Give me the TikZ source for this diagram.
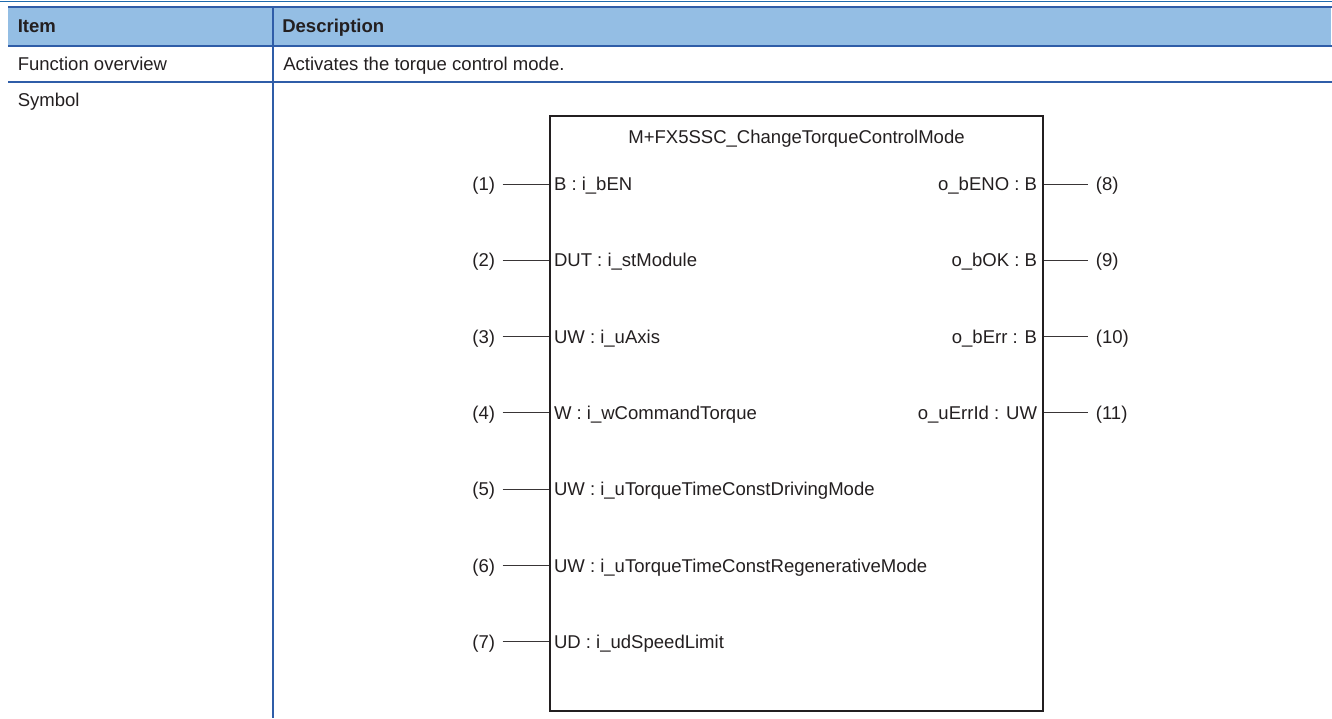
\documentclass[tikz,border=0pt]{standalone}
\usepackage{fontspec}
\setmainfont{Liberation Sans}
\usetikzlibrary{calc}
\definecolor{hdrfill}{HTML}{94BEE4}
\definecolor{tblline}{HTML}{2F5DA8}
\definecolor{topline}{HTML}{1F6BAE}
\definecolor{ink}{HTML}{231F20}

\begin{document}
\begin{tikzpicture}[
			x=0.75pt, y=-0.75pt,
			% Define styles for table and block
			every node/.style={inner sep=0pt, text=ink, font=\fontsize{13.9}{16}\selectfont},
			cell/.style={anchor=west, text height=10pt, text depth=0pt},
			headcell/.style={cell, font=\fontsize{13.9}{16}\selectfont\bfseries},
			tblrule/.style={draw=tblline, line width=1.5pt},
			fbblock/.style={draw=ink, line width=1.9pt, minimum width=369.75pt, minimum height=446.25pt},
			pinlabel/.style={text height=10pt, text depth=0pt},
			pinnum/.style={text height=10pt, text depth=0pt, inner xsep=5.5pt},
			pinwire/.style={draw=ink!90, line width=0.75pt}
		]
		\useasboundingbox (0,0) rectangle (1332,718);

		% Table frame
		\draw[topline, line width=0.75pt] (0,1) -- (1332,1);
		\fill[hdrfill] (8,7) rectangle (1331,46);
		\draw[tblrule] (8,7) -- (1332,7);
		\draw[tblrule] (8,46) -- (1332,46);
		\draw[tblrule] (8,82) -- (1332,82);
		\draw[tblrule] (273,7) -- (273,718);

		% Table texts
		\node[headcell] (hitem) at (17.5,25.5) {Item};
		\node[headcell] (hdesc) at (282,25.5) {Description};
		\node[cell] (rfunc) at (17.5,63.5) {Function overview};
		\node[cell] (rfuncd) at (283,63.5) {Activates the torque control mode.};
		\node[cell] (rsym) at (17.5,99.5) {Symbol};

		% Function block
		\node[fbblock] (fb) at (796.5,413.5) {};
		\node[pinlabel] (fbname) at ($(fb.north)+(0,22)$) {M+FX5SSC\_ChangeTorqueControlMode};

		% Input pins
		\foreach \n/\ypos/\txt in {1/184/B : i\_bEN,
				2/260.3/DUT : i\_stModule,
				3/336.6/UW : i\_uAxis,
				4/412.9/W : i\_wCommandTorque,
				5/489.2/UW : i\_uTorqueTimeConstDrivingMode,
				6/565.5/UW : i\_uTorqueTimeConstRegenerativeMode,
				7/641.8/UD : i\_udSpeedLimit} {
			\coordinate (in\n) at (fb.west |- 0,\ypos);
			\node[pinlabel, anchor=west] (lbl\n) at ($(in\n)+(5,0)$) {\txt};
			\node[pinnum, anchor=east] (num\n) at ($(in\n)+(-46,0)$) {(\n)};
			\draw[pinwire] (num\n.east) -- (in\n);
		}

		% Output pins
		\foreach \n/\ypos/\txt in {8/184/o\_bENO : B,
				9/260.3/o\_bOK : B,
				10/336.6/o\_bErr : B,
				11/412.9/o\_uErrId : UW} {
			\coordinate (out\n) at (fb.east |- 0,\ypos);
			\node[pinlabel, anchor=east] (olbl\n) at ($(out\n)+(-7,0)$) {\txt};
			\node[pinnum, anchor=west] (onum\n) at ($(out\n)+(44,0)$) {(\n)};
			\draw[pinwire] (out\n) -- (onum\n.west);
		}
	\end{tikzpicture}
\end{document}
